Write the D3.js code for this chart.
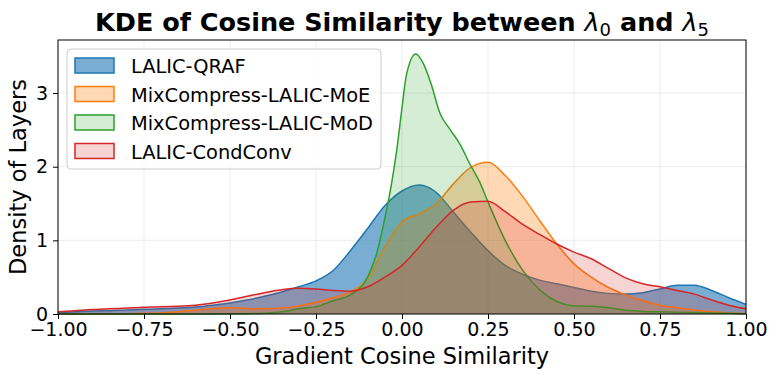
<!DOCTYPE html>
<html>
<head>
<meta charset="utf-8">
<script src="https://cdn.jsdelivr.net/npm/d3@7"></script>
<style>
  body { margin: 0; background: #fff; }
  text { font-family: "DejaVu Sans", sans-serif; }
</style>
</head>
<body>
<div id="chart"></div>
<script>
// Chart size and margins
const width = 777;
const height = 378;
const margin = { top: 40, right: 31, bottom: 64, left: 58 };

// Data (KDE curves)
const seriesNames = ["LALIC-QRAF", "MixCompress-LALIC-MoE", "MixCompress-LALIC-MoD", "LALIC-CondConv"];
const gridX = [-1, -0.95, -0.9, -0.85, -0.8, -0.75, -0.7, -0.65, -0.6, -0.55, -0.5, -0.45, -0.4, -0.35, -0.3,
  -0.25, -0.2, -0.15, -0.1, -0.05, 0, 0.05, 0.1, 0.15, 0.2, 0.25, 0.3, 0.35, 0.4, 0.45, 0.5, 0.55, 0.6,
  0.65, 0.7, 0.75, 0.8, 0.85, 0.9, 0.95, 1.0];
const qrafY = [0.02, 0.03, 0.04, 0.045, 0.055, 0.063, 0.07, 0.08, 0.095, 0.12, 0.15, 0.19, 0.24, 0.3, 0.37,
  0.45, 0.59, 0.86, 1.16, 1.47, 1.67, 1.75, 1.65, 1.38, 1.11, 0.86, 0.66, 0.54, 0.46, 0.41, 0.36, 0.31, 0.28,
  0.27, 0.29, 0.34, 0.39, 0.39, 0.32, 0.22, 0.13];
const moeY = [0, 0, 0, 0, 0.005, 0.01, 0.015, 0.03, 0.05, 0.075, 0.085, 0.075, 0.07, 0.08, 0.11,
  0.16, 0.22, 0.3, 0.48, 0.91, 1.25, 1.36, 1.5, 1.77, 1.99, 2.06, 1.88, 1.6, 1.27, 0.95, 0.68, 0.5, 0.36,
  0.26, 0.18, 0.12, 0.085, 0.054, 0.03, 0.015, 0.008];
const modX = [-1, -0.8, -0.6, -0.5, -0.45, -0.4, -0.35, -0.3, -0.25, -0.2, -0.15, -0.1, -0.075, -0.05, -0.033,
  -0.016, 0, 0.013, 0.04, 0.061, 0.085, 0.11, 0.139, 0.168, 0.197, 0.226, 0.25, 0.3, 0.35, 0.4, 0.45, 0.5,
  0.55, 0.6, 0.65, 0.7, 0.75, 0.8, 0.9, 1.0];
const modY = [0, 0, 0, 0.002, 0.005, 0.01, 0.03, 0.07, 0.1, 0.18, 0.26, 0.5, 0.8, 1.3, 1.7,
  2.2, 2.8, 3.25, 3.53, 3.41, 3.12, 2.73, 2.51, 2.31, 2.04, 1.79, 1.52, 1.0, 0.6, 0.33, 0.17, 0.11,
  0.105, 0.085, 0.05, 0.035, 0.03, 0.025, 0.015, 0.005];
const condY = [0.03, 0.045, 0.06, 0.07, 0.08, 0.09, 0.1, 0.105, 0.12, 0.15, 0.19, 0.24, 0.29, 0.33, 0.35,
  0.34, 0.32, 0.31, 0.37, 0.5, 0.66, 0.91, 1.18, 1.41, 1.52, 1.53, 1.39, 1.22, 1.08, 0.95, 0.84, 0.75, 0.62,
  0.49, 0.41, 0.37, 0.32, 0.27, 0.19, 0.12, 0.07];
const xTicks = [-1, -0.75, -0.5, -0.25, 0, 0.25, 0.5, 0.75, 1];
const yTicks = [0, 1, 2, 3];

const series = [
  { name: seriesNames[0], xs: gridX, ys: qrafY, color: "#1f77b4", alpha: 0.6 },
  { name: seriesNames[1], xs: gridX, ys: moeY, color: "#ff7f0e", alpha: 0.3 },
  { name: seriesNames[2], xs: modX, ys: modY, color: "#2ca02c", alpha: 0.2 },
  { name: seriesNames[3], xs: gridX, ys: condY, color: "#d62728", alpha: 0.2 }
];

const svg = d3.select("#chart")
  .append("svg")
  .attr("width", width)
  .attr("height", height);

// Scales
const xScale = d3.scaleLinear().domain([-1, 1]).range([margin.left, width - margin.right]);
const yScale = d3.scaleLinear().domain([0, 3.72]).range([height - margin.bottom, margin.top]);

// Grid lines
svg.append("g")
  .selectAll("line.xg")
  .data(xTicks)
  .enter()
  .append("line")
  .attr("x1", d => xScale(d)).attr("x2", d => xScale(d))
  .attr("y1", margin.top).attr("y2", height - margin.bottom)
  .attr("stroke", "#b0b0b0").attr("stroke-opacity", 0.3).attr("stroke-width", 0.8);
svg.append("g")
  .selectAll("line.yg")
  .data(yTicks)
  .enter()
  .append("line")
  .attr("x1", margin.left).attr("x2", width - margin.right)
  .attr("y1", d => yScale(d)).attr("y2", d => yScale(d))
  .attr("stroke", "#b0b0b0").attr("stroke-opacity", 0.3).attr("stroke-width", 0.8);

// Curves
const area = d3.area()
  .x(d => xScale(d[0]))
  .y0(yScale(0))
  .y1(d => yScale(d[1]))
  .curve(d3.curveMonotoneX);
const line = d3.line()
  .x(d => xScale(d[0]))
  .y(d => yScale(d[1]))
  .curve(d3.curveMonotoneX);

const plot = svg.append("g");
series.forEach(s => {
  const pts = s.xs.map((x, i) => [x, s.ys[i]]);
  plot.append("path")
    .attr("d", area(pts))
    .attr("fill", s.color)
    .attr("fill-opacity", s.alpha);
  plot.append("path")
    .attr("d", line(pts))
    .attr("fill", "none")
    .attr("stroke", s.color)
    .attr("stroke-width", 1.5);
});

// Axes
const xAxis = svg.append("g")
  .attr("transform", `translate(0, ${height - margin.bottom})`)
  .call(d3.axisBottom(xScale).tickValues(xTicks).tickSize(5).tickPadding(4)
    .tickFormat(d => d3.format(".2f")(d).replace("-", "\u2212")));
xAxis.select(".domain").remove();
xAxis.selectAll("text").attr("font-size", "19px").attr("fill", "#000").attr("font-family", "DejaVu Sans");
xAxis.selectAll("line").attr("stroke", "#000").attr("stroke-width", 1);

const yAxis = svg.append("g")
  .attr("transform", `translate(${margin.left}, 0)`)
  .call(d3.axisLeft(yScale).tickValues(yTicks).tickSize(5).tickPadding(5).tickFormat(d3.format("d")));
yAxis.select(".domain").remove();
yAxis.selectAll("text").attr("font-size", "19px").attr("fill", "#000").attr("font-family", "DejaVu Sans");
yAxis.selectAll("line").attr("stroke", "#000").attr("stroke-width", 1);

// Frame
svg.append("rect")
  .attr("x", margin.left).attr("y", margin.top)
  .attr("width", width - margin.left - margin.right)
  .attr("height", height - margin.top - margin.bottom)
  .attr("fill", "none").attr("stroke", "#000").attr("stroke-width", 1);

// Axis labels
svg.append("text")
  .attr("x", (margin.left + width - margin.right) / 2)
  .attr("y", 364)
  .attr("text-anchor", "middle")
  .attr("font-size", "22.5px")
  .text("Gradient Cosine Similarity");

svg.append("text")
  .attr("transform", `translate(26, ${(margin.top + height - margin.bottom) / 2}) rotate(-90)`)
  .attr("text-anchor", "middle")
  .attr("font-size", "22.5px")
  .text("Density of Layers");

// Title
const title = svg.append("text")
  .attr("x", (margin.left + width - margin.right) / 2)
  .attr("y", 31)
  .attr("text-anchor", "middle")
  .attr("font-size", "25.5px")
  .attr("font-weight", "bold");
title.append("tspan").text("KDE of Cosine Similarity between ");
title.append("tspan").attr("font-style", "italic").attr("font-weight", "normal").text("\u03bb");
title.append("tspan").attr("font-weight", "normal").attr("font-size", "18px").attr("dy", 5).text("0");
title.append("tspan").attr("dy", -5).text(" and ");
title.append("tspan").attr("font-style", "italic").attr("font-weight", "normal").text("\u03bb");
title.append("tspan").attr("font-weight", "normal").attr("font-size", "18px").attr("dy", 5).text("5");

// Legend
const legend = svg.append("g").attr("transform", "translate(67, 49)");
legend.append("rect")
  .attr("width", 314).attr("height", 120)
  .attr("rx", 4)
  .attr("fill", "#fff").attr("fill-opacity", 0.8)
  .attr("stroke", "#cccccc").attr("stroke-width", 1);

const rows = legend.selectAll("g.row")
  .data(series)
  .enter()
  .append("g")
  .attr("transform", (d, i) => `translate(8, ${9 + i * 28.5})`);
rows.append("rect")
  .attr("width", 39).attr("height", 15)
  .attr("fill", d => d.color).attr("fill-opacity", d => d.alpha)
  .attr("stroke", d => d.color).attr("stroke-width", 1.5);
rows.append("text")
  .attr("x", 56).attr("y", 15)
  .attr("font-size", "19.4px")
  .text(d => d.name);
</script>
</body>
</html>
